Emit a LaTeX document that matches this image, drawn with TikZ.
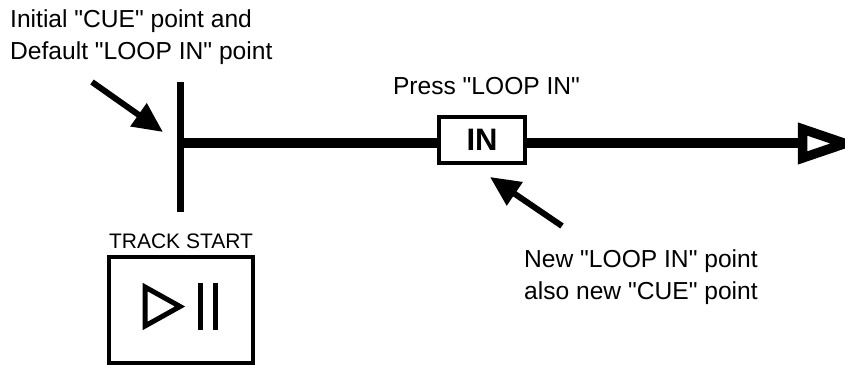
\documentclass[tikz,border=0pt]{standalone}
\usepackage{fontspec}
\setmainfont{Liberation Sans}[Ligatures=TeXOff]
\usetikzlibrary{arrows.meta}

\begin{document}
\begin{tikzpicture}[x=1pt,y=-1pt,
  txt/.style={font=\fontsize{24.6}{32}\selectfont, inner sep=0pt, align=left},
  pointer/.style={line width=6pt, -{Triangle[length=30pt,width=27pt]}},
  boxed/.style={draw, line width=4pt, inner sep=0pt},
  track/.style={line width=10pt},
  symbol/.style={line width=5pt}]
\useasboundingbox (0,0) rectangle (845,366);
% track with start bar and end arrow
\coordinate (bartop) at (180,82);
\coordinate (barbot) at (180,212);
\coordinate (start) at (180,143.5);
\coordinate (end) at (802.5,143.5);
\draw[line width=7pt] (bartop) -- (barbot);
\node[boxed, minimum width=86pt, minimum height=46pt, font=\fontsize{31}{31}\selectfont\bfseries] (in) at (482,140) {IN};
\draw[track] (start) -- (start -| in.west);
\draw[track] (start -| in.east) -- (end);
\draw[line width=9.5pt] (802.5,129) -- (845,143.5) -- (802.5,158) -- cycle;
% labels and pointers
\node[txt, anchor=north west] (cue) at (10,9.2) {Initial "CUE" point and\\Default "LOOP IN" point};
\coordinate (cuetail) at (92,82);
\coordinate (cuetip) at (163,132);
\draw[pointer] (cuetail) -- (cuetip);
\node[txt, anchor=base] (press) at (486.5,95) {Press "LOOP IN"};
\node[txt, anchor=north west] (newin) at (524,249) {New "LOOP IN" point\\also new "CUE" point};
\coordinate (newtail) at (562,226);
\coordinate (newtip) at (490,177);
\draw[pointer] (newtail) -- (newtip);
% play button
\node[font=\fontsize{21}{21}\selectfont, inner sep=0pt, anchor=base] (trk) at (181,248) {TRACK START};
\node[boxed, minimum width=144pt, minimum height=106pt] (play) at (181,309.5) {};
\draw[symbol] (play.center) ++(-36,-22.5) -- ++(35,19.5) -- ++(-35,19.5) -- cycle;
\draw[symbol] (play.center) ++(19.8,-26.5) -- ++(0,47);
\draw[symbol] (play.center) ++(34,-26.5) -- ++(0,47);
\end{tikzpicture}
\end{document}
